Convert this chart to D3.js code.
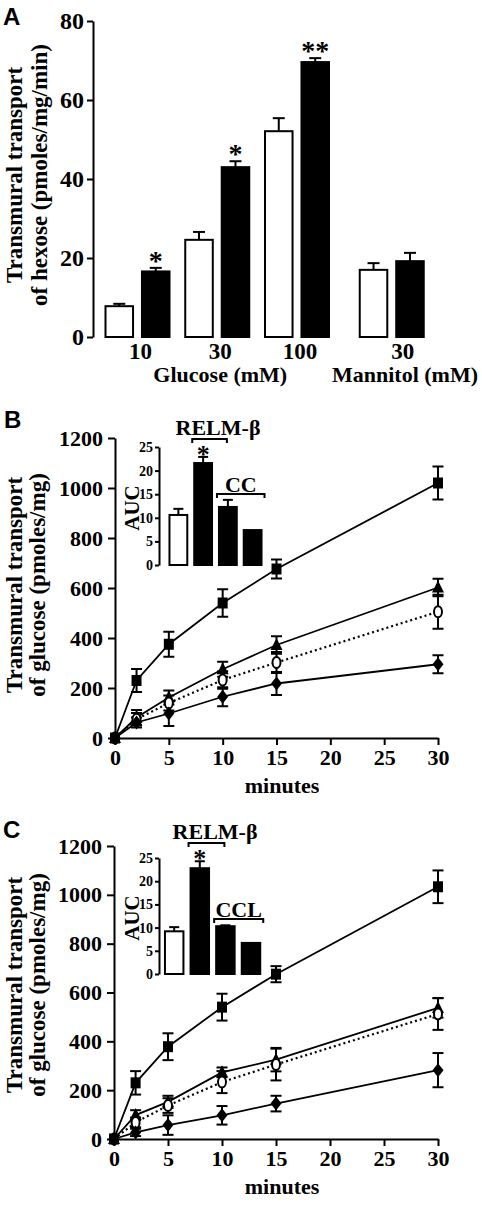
<!DOCTYPE html>
<html><head><meta charset="utf-8">
<script src="https://cdn.jsdelivr.net/npm/d3@7"></script>
<style>
body{margin:0;background:#fff}
svg text{font-family:"Liberation Serif","Times New Roman",serif;font-weight:bold;fill:#000}
</style>
</head><body>
<svg id="fig" width="482" height="1206"></svg>
<script>
// ---------- DATA ----------
// Panel A
const concLabels = ["10", "30", "100", "30"];
const groupTitles = ["Glucose (mM)", "Mannitol (mM)"];
const ctrlA = [7.8, 24.6, 52.1, 17.0];
const ctrlAErr = [0.6, 2.0, 3.3, 1.7];
const relmA = [16.6, 43.0, 69.6, 19.2];
const relmAErr = [0.9, 1.5, 1.0, 2.1];
const sigA = ["*", "*", "**", ""];
const yTicksA = [0, 20, 40, 60, 80];

// Panels B and C (time courses)
const minutes = [0, 2, 5, 10, 15, 30];
const xTicksBC = [0, 5, 10, 15, 20, 25, 30];
const yTicksBC = [0, 200, 400, 600, 800, 1000, 1200];

const B_square = [0, 230, 375, 540, 676, 1020];
const B_squareErr = [0, 46, 50, 55, 38, 66];
const B_triangle = [0, 82, 162, 275, 372, 602];
const B_triangleErr = [0, 30, 28, 30, 35, 35];
const B_circle = [0, 75, 140, 232, 302, 505];
const B_circleErr = [0, 25, 30, 35, 42, 68];
const B_diamond = [0, 62, 98, 165, 218, 295];
const B_diamondErr = [0, 20, 50, 38, 46, 36];

const C_square = [0, 230, 378, 540, 675, 1033];
const C_squareErr = [0, 48, 55, 55, 33, 67];
const C_triangle = [0, 98, 152, 273, 325, 537];
const C_triangleErr = [0, 20, 25, 20, 48, 40];
const C_circle = [0, 68, 137, 233, 305, 512];
const C_circleErr = [0, 20, 30, 45, 65, 65];
const C_diamond = [0, 27, 57, 97, 145, 282];
const C_diamondErr = [0, 15, 40, 38, 32, 70];

// Insets (AUC)
const aucTicks = [0, 5, 10, 15, 20, 25];
const aucFill = ["open", "solid", "solid", "solid"];
const aucB = [10.6, 21.6, 12.3, 7.4];
const aucBErr = [1.3, 1.3, 1.5, 0.1];
const aucC = [9.2, 22.8, 10.3, 6.7];
const aucCErr = [0.9, 1.5, 0.2, 0.1];
const aucSig = ["", "*", "", ""];
const insetTitle = "RELM-β";
const insetB_Label = "CC";
const insetC_Label = "CCL";

// ---------- DRAWING ----------
const SERIF = '"Liberation Serif","Times New Roman",serif';
const svg = d3.select("#fig");
svg.append("rect").attr("width", 482).attr("height", 1206).attr("fill", "#fff");

function styleAxis(g, fs) {
  g.attr("font-family", null).attr("font-size", null);
  g.selectAll("path.domain").attr("stroke", "#000").attr("stroke-width", 2);
  g.selectAll(".tick line").attr("stroke", "#000").attr("stroke-width", 2);
  g.selectAll(".tick text").attr("font-size", fs)
    .style("font-family", SERIF).style("font-weight", "bold").attr("fill", "#000");
}
function panelLetter(t, x, y) {
  svg.append("text").text(t).attr("x", x).attr("y", y).attr("font-size", 24)
    .style("font-family", '"Liberation Sans",Arial,sans-serif').style("font-weight", "bold");
}
function yLabel(lines, cy, xs, fs) {
  lines.forEach((l, i) => {
    svg.append("text").text(l).attr("transform", `translate(${xs[i]},${cy}) rotate(-90)`)
      .attr("text-anchor", "middle").attr("font-size", fs);
  });
}
function errBar(g, x, y0, y1, cap) {
  g.append("line").attr("x1", x).attr("x2", x).attr("y1", y0).attr("y2", y1)
    .attr("stroke", "#000").attr("stroke-width", 2);
  [y0, y1].forEach(y => g.append("line").attr("x1", x - cap / 2).attr("x2", x + cap / 2)
    .attr("y1", y).attr("y2", y).attr("stroke", "#000").attr("stroke-width", 2));
}
const fmt = d3.format("d");

// ===== Panel A =====
panelLetter("A", 3, 25);
const yA = d3.scaleLinear().domain([0, 80]).range([337, 21]);
const gA = svg.append("g");
gA.append("g").attr("transform", "translate(93,0)")
  .call(d3.axisLeft(yA).tickValues(yTicksA).tickFormat(fmt).tickSize(6).tickSizeOuter(0).tickPadding(3))
  .call(g => styleAxis(g, 24));
const groupX = d3.scaleLinear().domain([0, 2]).range([137.5, 297]);
const gapMannitol = 15;
const gc = i => groupX(i) + (i === 3 ? gapMannitol : 0);
const inner = d3.scaleBand().domain(["ctrl", "relm"]).range([-33, 33]).paddingInner(0.19);
concLabels.forEach((lab, i) => {
  const series = [["ctrl", ctrlA[i], ctrlAErr[i]], ["relm", relmA[i], relmAErr[i]]];
  series.forEach(([k, v, e]) => {
    const x0 = gc(i) + inner(k), w = inner.bandwidth();
    const xm = x0 + w / 2;
    gA.append("line").attr("x1", xm).attr("x2", xm).attr("y1", yA(v)).attr("y2", yA(v + e))
      .attr("stroke", "#000").attr("stroke-width", 2);
    gA.append("line").attr("x1", xm - 6).attr("x2", xm + 6).attr("y1", yA(v + e)).attr("y2", yA(v + e))
      .attr("stroke", "#000").attr("stroke-width", 2);
    gA.append("rect").attr("x", x0 + 1).attr("y", yA(v)).attr("width", w - 2).attr("height", yA(0) - yA(v))
      .attr("fill", k === "ctrl" ? "#fff" : "#000").attr("stroke", "#000").attr("stroke-width", 2);
    if (k === "relm" && sigA[i]) {
      gA.append("text").text(sigA[i]).attr("x", xm).attr("y", yA(v + e) + 2)
        .attr("text-anchor", "middle").attr("font-size", 28);
    }
  });
  gA.append("text").text(lab).attr("x", gc(i) + (i === 3 ? 11 : 3)).attr("y", 359)
    .attr("text-anchor", "middle").attr("font-size", 23);
});
gA.append("text").text(groupTitles[0]).attr("x", (gc(0) + gc(2)) / 2 + 3).attr("y", 382)
  .attr("text-anchor", "middle").attr("font-size", 22);
gA.append("text").text(groupTitles[1]).attr("x", 478).attr("y", 382)
  .attr("text-anchor", "end").attr("font-size", 22);
yLabel(["Transmural transport", "of hexose (pmoles/mg/min)"], 175, [22, 47], 23);

// ===== Panels B & C =====
function timePanel(cfg) {
  const g = svg.append("g");
  const x = d3.scaleLinear().domain([0, 30]).range([cfg.x0, 438]);
  const y = d3.scaleLinear().domain([0, 1200]).range([cfg.y0, cfg.y1]);
  g.append("g").attr("transform", `translate(${cfg.x0},0)`)
    .call(d3.axisLeft(y).tickValues(yTicksBC).tickFormat(fmt).tickSize(7).tickSizeOuter(0).tickPadding(5))
    .call(a => styleAxis(a, 22));
  g.append("g").attr("transform", `translate(0,${cfg.y0})`)
    .call(d3.axisBottom(x).tickValues(xTicksBC).tickFormat(fmt).tickSize(7).tickSizeOuter(0).tickPadding(4))
    .call(a => styleAxis(a, 22));
  g.append("text").text("minutes").attr("x", 282).attr("y", cfg.y0 + 55)
    .attr("text-anchor", "middle").attr("font-size", 22);

  const line = d3.line().x(d => x(d[0])).y(d => y(d[1]));
  cfg.series.forEach(s => {
    g.append("path").datum(minutes.map((t, i) => [t, s.v[i]])).attr("d", line)
      .attr("fill", "none").attr("stroke", "#000").attr("stroke-width", s.dotted ? 2.2 : 1.8)
      .attr("stroke-dasharray", s.dotted ? "2,3" : null);
  });
  cfg.series.forEach(s => {
    minutes.forEach((t, i) => {
      if (s.e[i] > 0) errBar(g, x(t), y(s.v[i] - s.e[i]), y(s.v[i] + s.e[i]), 11);
    });
  });
  cfg.series.forEach(s => {
    minutes.forEach((t, i) => {
      const px = x(t), py = y(s.v[i]);
      if (s.m === "square") g.append("rect").attr("x", px - 5).attr("y", py - 5.5).attr("width", 10).attr("height", 11).attr("fill", "#000");
      else if (s.m === "triangle") g.append("path").attr("d", `M${px},${py - 7}L${px + 6},${py + 5}L${px - 6},${py + 5}Z`).attr("fill", "#000");
      else if (s.m === "diamond") g.append("path").attr("d", `M${px},${py - 7}L${px + 5.5},${py}L${px},${py + 7}L${px - 5.5},${py}Z`).attr("fill", "#000");
      else g.append("ellipse").attr("cx", px).attr("cy", py).attr("rx", 4).attr("ry", 5.5)
        .attr("fill", "#fff").attr("stroke", "#000").attr("stroke-width", 2);
    });
  });
  yLabel(["Transmural transport", "of glucose (pmoles/mg)"], cfg.labelY, [22, 45], 23);

  // inset
  const ig = svg.append("g");
  const iy = d3.scaleLinear().domain([0, 25]).range([cfg.in.y0, cfg.in.y1]);
  const ix = d3.scaleBand().domain(d3.range(cfg.in.v.length)).range(cfg.in.xr).paddingInner(0.2).paddingOuter(0.1);
  ig.append("g").attr("transform", `translate(${cfg.in.ax},0)`)
    .call(d3.axisLeft(iy).tickValues(aucTicks).tickFormat(fmt).tickSize(4).tickSizeOuter(0).tickPadding(2))
    .call(a => styleAxis(a, 14));
  cfg.in.v.forEach((v, i) => {
    const x0 = ix(i), w = ix.bandwidth(), xm = x0 + w / 2;
    const e = cfg.in.e[i];
    if (e > 0.15) {
      ig.append("line").attr("x1", xm).attr("x2", xm).attr("y1", iy(v)).attr("y2", iy(v + e)).attr("stroke", "#000").attr("stroke-width", 2);
      ig.append("line").attr("x1", xm - 5).attr("x2", xm + 5).attr("y1", iy(v + e)).attr("y2", iy(v + e)).attr("stroke", "#000").attr("stroke-width", 2);
    }
    ig.append("rect").attr("x", x0 + 1).attr("y", iy(v)).attr("width", w - 2).attr("height", iy(0) - iy(v))
      .attr("fill", aucFill[i] === "open" ? "#fff" : "#000").attr("stroke", "#000").attr("stroke-width", 2);
    if (aucSig[i]) ig.append("text").text(aucSig[i]).attr("x", xm).attr("y", iy(v + e) + 6)
      .attr("text-anchor", "middle").attr("font-size", 26);
  });
  ig.append("text").text("AUC").attr("transform", `translate(${cfg.in.ax - 20},${(cfg.in.y0 + cfg.in.y1) / 2 + 2}) rotate(-90)`)
    .attr("text-anchor", "middle").attr("font-size", 21);
  // brackets
  function bracket(xa, xb, yb, label, ly, lx) {
    ig.append("path").attr("d", `M${xa},${yb + 4}V${yb}H${xb}V${yb + 4}`).attr("fill", "none")
      .attr("stroke", "#000").attr("stroke-width", 2);
    ig.append("text").text(label).attr("x", lx).attr("y", ly).attr("text-anchor", "middle").attr("font-size", 22);
  }
  const b1 = ix(1), b2 = ix(2), b3 = ix(3), bw = ix.bandwidth();
  bracket(b1 - 1, b2 + bw / 2 - 1, cfg.in.br1, insetTitle, cfg.in.br1 - 4, b1 + bw + 5);
  bracket(b2 - 1, b3 + bw + 2, cfg.in.br2, cfg.in.label, cfg.in.br2 - 2, b2 + bw + 3);
}

panelLetter("B", 4, 428);
timePanel({
  x0: 115, y0: 738, y1: 438, labelY: 585,
  series: [
    { v: B_square, e: B_squareErr, m: "square" },
    { v: B_triangle, e: B_triangleErr, m: "triangle" },
    { v: B_circle, e: B_circleErr, m: "circle", dotted: true },
    { v: B_diamond, e: B_diamondErr, m: "diamond" }
  ],
  in: { ax: 159, y0: 565, y1: 447, xr: [166, 265], v: aucB, e: aucBErr, br1: 439, br2: 494, label: insetB_Label }
});

panelLetter("C", 3, 838);
timePanel({
  x0: 114, y0: 1139, y1: 846, labelY: 985,
  series: [
    { v: C_square, e: C_squareErr, m: "square" },
    { v: C_triangle, e: C_triangleErr, m: "triangle" },
    { v: C_circle, e: C_circleErr, m: "circle", dotted: true },
    { v: C_diamond, e: C_diamondErr, m: "diamond" }
  ],
  in: { ax: 159, y0: 974, y1: 858, xr: [161.4, 263.8], v: aucC, e: aucCErr, br1: 843, br2: 919, label: insetC_Label }
});
</script>
</body></html>
